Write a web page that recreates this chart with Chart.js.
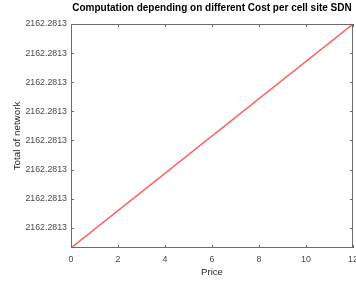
<!DOCTYPE html>
<html>
<head>
<meta charset="utf-8">
<script src="https://cdn.jsdelivr.net/npm/chart.js@4/dist/chart.umd.min.js"></script>
<style>
  html, body { margin: 0; padding: 0; background: #fff; }
  #wrap { width: 356px; height: 285px; }
</style>
</head>
<body>
<div id="wrap"><canvas id="costChart" width="356" height="285"></canvas></div>
<script>
// Data
const xValues = [0, 12];
const yValues = [2162.28129999923, 2162.28130000000];

// Axis ticks and their labels
const xTicks = [0, 2, 4, 6, 8, 10, 12];
const xTickLabels = ['0', '2', '4', '6', '8', '10', '12'];
const yTicks = [2162.28129999930, 2162.28129999940, 2162.28129999950, 2162.28129999960,
                2162.28129999970, 2162.28129999980, 2162.28129999990, 2162.28130000000];
const yTickLabels = ['2162.2813', '2162.2813', '2162.2813', '2162.2813',
                     '2162.2813', '2162.2813', '2162.2813', '2162.2813'];

const axisColor = '#6b6b6b';
const labelColor = '#4a4a4a';
const fontFamily = '"Liberation Sans", Arial, Helvetica, sans-serif';

// MATLAB style box with inward tick marks
const boxPlugin = {
    id: 'boxPlugin',
    afterDraw(chart) {
        const { ctx, chartArea: a, scales } = chart;
        const len = 3;
        ctx.save();
        ctx.strokeStyle = axisColor;
        ctx.lineWidth = 1;
        ctx.strokeRect(a.left + 0.5, a.top + 0.5, a.right - a.left - 1, a.bottom - a.top - 1);
        ctx.beginPath();
        scales.x.ticks.forEach(t => {
            const px = Math.round(scales.x.getPixelForValue(t.value)) + 0.5;
            ctx.moveTo(px, a.bottom);
            ctx.lineTo(px, a.bottom - len);
            ctx.moveTo(px, a.top);
            ctx.lineTo(px, a.top + len);
        });
        scales.y.ticks.forEach(t => {
            const py = Math.round(scales.y.getPixelForValue(t.value)) + 0.5;
            ctx.moveTo(a.left, py);
            ctx.lineTo(a.left + len, py);
            ctx.moveTo(a.right, py);
            ctx.lineTo(a.right - len, py);
        });
        ctx.stroke();
        ctx.restore();
    }
};

const ctx = document.getElementById('costChart').getContext('2d');
new Chart(ctx, {
    type: 'scatter',
    data: {
        datasets: [{
            data: xValues.map((x, i) => ({ x: x, y: yValues[i] })),
            showLine: true,
            borderColor: 'rgba(255, 40, 40, 0.75)',
            borderWidth: 1.4,
            pointRadius: 0,
            tension: 0
        }]
    },
    options: {
        responsive: false,
        animation: false,
        layout: { padding: { left: 0, right: 3, top: 0, bottom: 0 } },
        plugins: {
            legend: { display: false },
            tooltip: { enabled: false },
            title: {
                display: true,
                fullSize: false,
                text: 'Computation depending on different Cost per cell site SDN',
                color: '#000',
                font: { family: fontFamily, size: 10, weight: 'bold' },
                padding: { top: 2, bottom: 10 }
            }
        },
        scales: {
            x: {
                type: 'linear',
                min: 0,
                max: 12,
                grid: { display: false, drawTicks: false },
                border: { display: false },
                afterBuildTicks: s => { s.ticks = xTicks.map(v => ({ value: v })); },
                afterFit: s => { s.height = 37; s.paddingLeft = 0; s.paddingRight = 0; },
                ticks: {
                    autoSkip: false,
                    maxRotation: 0,
                    padding: 6,
                    color: labelColor,
                    font: { family: fontFamily, size: 8.8 },
                    callback: (v, i) => xTickLabels[i]
                },
                title: {
                    display: true,
                    text: 'Price',
                    color: '#262626',
                    font: { family: fontFamily, size: 9.6 },
                    padding: { top: 0, bottom: 7 }
                }
            },
            y: {
                type: 'linear',
                min: yValues[0],
                max: yValues[1],
                grid: { display: false, drawTicks: false },
                border: { display: false },
                afterBuildTicks: s => { s.ticks = yTicks.map(v => ({ value: v })); },
                afterFit: s => { s.width = 71; s.paddingTop = 0; s.paddingBottom = 0; },
                ticks: {
                    autoSkip: false,
                    padding: 4,
                    color: labelColor,
                    font: { family: fontFamily, size: 8.8 },
                    callback: (v, i) => yTickLabels[i]
                },
                title: {
                    display: true,
                    text: 'Total of network',
                    color: '#262626',
                    font: { family: fontFamily, size: 9.8 },
                    padding: { top: 11, bottom: 0 }
                }
            }
        }
    },
    plugins: [boxPlugin]
});
</script>
</body>
</html>
